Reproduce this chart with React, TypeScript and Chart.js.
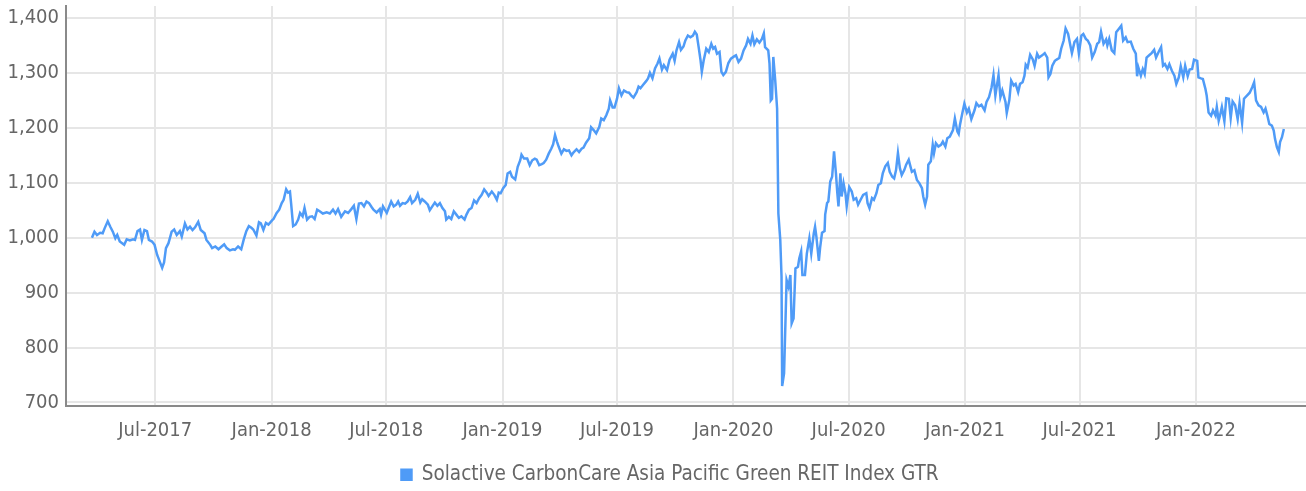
import React, { useEffect, useRef } from "react";
import { Chart, registerables } from "chart.js";

Chart.register(...registerables);

const SERIES_LABEL = "Solactive CarbonCare Asia Pacific Green REIT Index GTR";

const dates2017: string[] = [
  "2017-03-23","2017-03-27","2017-03-31","2017-04-05","2017-04-09","2017-04-12","2017-04-17","2017-04-21","2017-04-25","2017-04-29",
  "2017-05-02","2017-05-06","2017-05-13","2017-05-17","2017-05-22","2017-05-27","2017-05-30","2017-06-03","2017-06-07","2017-06-10",
  "2017-06-14","2017-06-18","2017-06-21","2017-06-26","2017-06-30","2017-07-04","2017-07-07","2017-07-12","2017-07-15","2017-07-18",
  "2017-07-22","2017-07-27","2017-07-31","2017-08-04","2017-08-09","2017-08-12","2017-08-17","2017-08-21","2017-08-25","2017-08-29",
  "2017-09-02","2017-09-07","2017-09-11","2017-09-17","2017-09-20","2017-09-26","2017-09-29","2017-10-04","2017-10-09","2017-10-14",
  "2017-10-18","2017-10-22","2017-10-27","2017-11-01","2017-11-04","2017-11-09","2017-11-14","2017-11-18","2017-11-22","2017-11-26",
  "2017-11-30","2017-12-03","2017-12-08","2017-12-12","2017-12-15","2017-12-19","2017-12-23","2017-12-27",
];
const values2017: number[] = [
  1000, 1011, 1005, 1009, 1008, 1017, 1030, 1020, 1011, 999,
  1005, 993, 987, 997, 995, 997, 996, 1012, 1015, 996,
  1014, 1012, 996, 993, 987, 969, 960, 945, 955, 981,
  990, 1011, 1015, 1005, 1012, 1002, 1026, 1015, 1020, 1014,
  1019, 1029, 1014, 1008, 996, 987, 981, 984, 979, 984,
  988, 981, 977, 979, 978, 984, 979, 997, 1012, 1021,
  1018, 1015, 1004, 1028, 1026, 1014, 1027, 1024,
];

const dates2018: string[] = [
  "2018-01-02","2018-01-04","2018-01-09","2018-01-13","2018-01-17","2018-01-20","2018-01-24","2018-01-27","2018-01-30","2018-02-01",
  "2018-02-04","2018-02-08","2018-02-12","2018-02-15","2018-02-19","2018-02-22","2018-02-26","2018-03-02","2018-03-06","2018-03-10",
  "2018-03-14","2018-03-18","2018-03-23","2018-03-29","2018-04-03","2018-04-08","2018-04-12","2018-04-16","2018-04-21","2018-04-27",
  "2018-05-02","2018-05-07","2018-05-11","2018-05-15","2018-05-19","2018-05-23","2018-05-27","2018-05-31","2018-06-04","2018-06-08",
  "2018-06-11","2018-06-16","2018-06-21","2018-06-23","2018-06-26","2018-07-02","2018-07-05","2018-07-09","2018-07-13","2018-07-17",
  "2018-07-20","2018-07-23","2018-07-27","2018-07-31","2018-08-04","2018-08-08","2018-08-11","2018-08-16","2018-08-20","2018-08-24",
  "2018-08-27","2018-08-31","2018-09-05","2018-09-08","2018-09-12","2018-09-16","2018-09-20","2018-09-24","2018-09-28","2018-10-02",
  "2018-10-04","2018-10-08","2018-10-12","2018-10-16","2018-10-20","2018-10-24","2018-10-28","2018-11-02","2018-11-05","2018-11-09",
  "2018-11-13","2018-11-17","2018-11-21","2018-11-25","2018-11-29","2018-12-03","2018-12-07","2018-12-10","2018-12-15","2018-12-19",
  "2018-12-23","2018-12-26","2018-12-29",
];
const values2018: number[] = [
  1032, 1034, 1045, 1051, 1063, 1069, 1088, 1082, 1084, 1060,
  1021, 1024, 1033, 1045, 1039, 1054, 1033, 1038, 1039, 1034,
  1051, 1048, 1044, 1046, 1044, 1051, 1044, 1052, 1038, 1048,
  1045, 1052, 1058, 1034, 1062, 1063, 1057, 1066, 1063, 1056,
  1051, 1046, 1052, 1042, 1057, 1045, 1054, 1066, 1057, 1060,
  1066, 1058, 1063, 1062, 1066, 1074, 1063, 1069, 1080, 1064,
  1070, 1066, 1060, 1050, 1057, 1064, 1058, 1063, 1054, 1048,
  1033, 1038, 1034, 1048, 1042, 1036, 1039, 1033, 1042, 1051,
  1054, 1068, 1063, 1072, 1078, 1088, 1082, 1076, 1084, 1078,
  1069, 1082, 1081,
];

const dates2019: string[] = [
  "2019-01-02","2019-01-06","2019-01-09","2019-01-13","2019-01-16","2019-01-21","2019-01-25","2019-01-29","2019-01-31","2019-02-04",
  "2019-02-09","2019-02-13","2019-02-17","2019-02-21","2019-02-24","2019-02-28","2019-03-04","2019-03-07","2019-03-11","2019-03-15",
  "2019-03-19","2019-03-22","2019-03-25","2019-03-28","2019-03-31","2019-04-04","2019-04-08","2019-04-12","2019-04-16","2019-04-20",
  "2019-04-23","2019-04-28","2019-05-02","2019-05-06","2019-05-09","2019-05-13","2019-05-18","2019-05-21","2019-05-25","2019-05-29",
  "2019-06-03","2019-06-06","2019-06-10","2019-06-14","2019-06-18","2019-06-20","2019-06-24","2019-06-27","2019-07-01","2019-07-04",
  "2019-07-08","2019-07-12","2019-07-16","2019-07-20","2019-07-24","2019-07-27","2019-08-01","2019-08-04","2019-08-07","2019-08-11",
  "2019-08-16","2019-08-19","2019-08-22","2019-08-26","2019-08-30","2019-09-03","2019-09-06","2019-09-10","2019-09-13","2019-09-18",
  "2019-09-22","2019-09-27","2019-09-30","2019-10-03","2019-10-07","2019-10-10","2019-10-14","2019-10-17","2019-10-21","2019-10-25",
  "2019-10-29","2019-11-01","2019-11-04","2019-11-07","2019-11-10","2019-11-12","2019-11-15","2019-11-19","2019-11-23","2019-11-27",
  "2019-11-30","2019-12-03","2019-12-06","2019-12-10","2019-12-13","2019-12-16","2019-12-20","2019-12-24","2019-12-28",
];
const values2019: number[] = [
  1090, 1096, 1117, 1120, 1111, 1106, 1129, 1141, 1151, 1144,
  1144, 1132, 1141, 1144, 1142, 1132, 1134, 1136, 1142, 1153,
  1162, 1170, 1187, 1175, 1165, 1153, 1161, 1158, 1159, 1150,
  1155, 1161, 1156, 1162, 1164, 1173, 1181, 1201, 1196, 1190,
  1202, 1217, 1214, 1223, 1235, 1250, 1237, 1237, 1253, 1272,
  1259, 1268, 1265, 1264, 1258, 1255, 1265, 1275, 1272, 1278,
  1285, 1290, 1300, 1290, 1308, 1317, 1326, 1306, 1314, 1305,
  1324, 1335, 1322, 1341, 1356, 1342, 1348, 1359, 1368, 1365,
  1368, 1375, 1370, 1347, 1323, 1302, 1323, 1344, 1338, 1353,
  1344, 1347, 1335, 1338, 1302, 1296, 1302, 1318, 1326,
];

const dates2020: string[] = [
  "2020-01-02","2020-01-05","2020-01-09","2020-01-13","2020-01-17","2020-01-21","2020-01-24","2020-01-28","2020-01-31","2020-02-03",
  "2020-02-07","2020-02-11","2020-02-15","2020-02-18","2020-02-20","2020-02-25","2020-02-27","2020-02-29","2020-03-02","2020-03-04",
  "2020-03-07","2020-03-10","2020-03-12","2020-03-15","2020-03-17","2020-03-18","2020-03-21","2020-03-25","2020-03-28","2020-03-31",
  "2020-04-02","2020-04-05","2020-04-08","2020-04-12","2020-04-14","2020-04-17","2020-04-19","2020-04-23","2020-04-26","2020-04-30",
  "2020-05-03","2020-05-07","2020-05-09","2020-05-11","2020-05-15","2020-05-17","2020-05-20","2020-05-24","2020-05-25","2020-05-28",
  "2020-05-30","2020-06-02","2020-06-05","2020-06-08","2020-06-11","2020-06-13","2020-06-15","2020-06-18","2020-06-20","2020-06-23",
  "2020-06-26","2020-06-28","2020-07-02","2020-07-06","2020-07-09","2020-07-13","2020-07-16","2020-07-20","2020-07-24","2020-07-29",
  "2020-07-31","2020-08-03","2020-08-07","2020-08-10","2020-08-14","2020-08-17","2020-08-21","2020-08-24","2020-08-28","2020-09-01",
  "2020-09-04","2020-09-08","2020-09-11","2020-09-14","2020-09-17","2020-09-20","2020-09-23","2020-09-27","2020-09-30","2020-10-04",
  "2020-10-06","2020-10-09","2020-10-13","2020-10-17","2020-10-21","2020-10-25","2020-10-27","2020-10-30","2020-11-02","2020-11-04",
  "2020-11-08","2020-11-11","2020-11-13","2020-11-16","2020-11-20","2020-11-24","2020-11-27","2020-12-01","2020-12-04","2020-12-08",
  "2020-12-13","2020-12-16","2020-12-20","2020-12-22","2020-12-24","2020-12-28","2020-12-31",
];
const values2020: number[] = [
  1330, 1332, 1320, 1326, 1341, 1350, 1362, 1353, 1368, 1352,
  1361, 1355, 1362, 1372, 1347, 1341, 1317, 1250, 1253, 1329,
  1287, 1235, 1044, 996, 929, 730, 753, 923, 911, 932,
  844, 853, 944, 947, 962, 975, 932, 932, 971, 999,
  971, 1008, 1020, 1003, 958, 982, 1009, 1012, 1042, 1063,
  1066, 1102, 1111, 1157, 1117, 1084, 1057, 1117, 1075, 1099,
  1081, 1057, 1092, 1084, 1069, 1072, 1060, 1069, 1078, 1081,
  1063, 1054, 1072, 1069, 1081, 1096, 1099, 1117, 1130, 1136,
  1120, 1111, 1108, 1123, 1154, 1127, 1114, 1123, 1133, 1142,
  1133, 1120, 1123, 1105, 1099, 1090, 1075, 1060, 1075, 1133,
  1139, 1169, 1154, 1172, 1166, 1169, 1175, 1166, 1181, 1184,
  1196, 1217, 1193, 1189, 1205, 1228, 1244,
];

const dates2021: string[] = [
  "2021-01-04","2021-01-07","2021-01-11","2021-01-16","2021-01-19","2021-01-23","2021-01-27","2021-02-01","2021-02-04","2021-02-08",
  "2021-02-12","2021-02-15","2021-02-18","2021-02-20","2021-02-23","2021-02-26","2021-03-01","2021-03-06","2021-03-08","2021-03-12",
  "2021-03-15","2021-03-19","2021-03-22","2021-03-26","2021-03-29","2021-04-02","2021-04-05","2021-04-07","2021-04-10","2021-04-14",
  "2021-04-18","2021-04-21","2021-04-25","2021-04-28","2021-05-03","2021-05-07","2021-05-11","2021-05-13","2021-05-16","2021-05-19",
  "2021-05-23","2021-05-27","2021-05-30","2021-06-02","2021-06-06","2021-06-09","2021-06-13","2021-06-16","2021-06-19","2021-06-23",
  "2021-06-27","2021-06-30","2021-07-04","2021-07-07","2021-07-11","2021-07-14","2021-07-18","2021-07-21","2021-07-25","2021-07-29",
  "2021-08-01","2021-08-04","2021-08-08","2021-08-12","2021-08-14","2021-08-17","2021-08-21","2021-08-25","2021-08-28","2021-09-01",
  "2021-09-05","2021-09-08","2021-09-12","2021-09-15","2021-09-20","2021-09-24","2021-09-28","2021-09-30","2021-10-02","2021-10-06",
  "2021-10-09","2021-10-12","2021-10-15","2021-10-20","2021-10-23","2021-10-27","2021-10-30","2021-11-03","2021-11-07","2021-11-10",
  "2021-11-13","2021-11-17","2021-11-20","2021-11-24","2021-11-28","2021-12-01","2021-12-05","2021-12-08","2021-12-12","2021-12-15",
  "2021-12-19","2021-12-22","2021-12-26","2021-12-29",
];
const values2021: number[] = [
  1228, 1235, 1216, 1232, 1245, 1239, 1242, 1232, 1247, 1256,
  1274, 1296, 1259, 1274, 1296, 1256, 1268, 1247, 1227, 1250,
  1286, 1277, 1280, 1265, 1280, 1283, 1295, 1315, 1310, 1333,
  1325, 1313, 1335, 1328, 1332, 1336, 1328, 1292, 1298, 1313,
  1322, 1325, 1327, 1344, 1359, 1381, 1371, 1353, 1336, 1356,
  1362, 1335, 1368, 1371, 1362, 1359, 1350, 1328, 1338, 1353,
  1356, 1375, 1353, 1361, 1350, 1362, 1341, 1336, 1374, 1380,
  1386, 1359, 1365, 1356, 1357, 1344, 1335, 1294, 1310, 1295,
  1307, 1298, 1328, 1333, 1336, 1342, 1328, 1338, 1347, 1313,
  1316, 1307, 1316, 1304, 1295, 1280, 1292, 1312, 1292, 1313,
  1294, 1306, 1307, 1324,
];

const dates2022: string[] = [
  "2022-01-03","2022-01-05","2022-01-09","2022-01-12","2022-01-16","2022-01-18","2022-01-21","2022-01-25","2022-01-28","2022-02-01",
  "2022-02-03","2022-02-06","2022-02-08","2022-02-11","2022-02-15","2022-02-18","2022-02-22","2022-02-25","2022-02-28","2022-03-04",
  "2022-03-08","2022-03-11","2022-03-15","2022-03-18","2022-03-23","2022-03-27","2022-03-31","2022-04-03","2022-04-06","2022-04-10",
  "2022-04-14","2022-04-18","2022-04-21","2022-04-24","2022-04-27","2022-05-01","2022-05-04","2022-05-06","2022-05-09","2022-05-12",
  "2022-05-14","2022-05-17","2022-05-20",
];
const values2022: number[] = [
  1322, 1292, 1290, 1289, 1271, 1259, 1228, 1222, 1232, 1222,
  1238, 1213, 1222, 1238, 1212, 1254, 1253, 1218, 1248, 1241,
  1216, 1245, 1209, 1253, 1259, 1264, 1274, 1283, 1250, 1241,
  1238, 1228, 1235, 1222, 1207, 1204, 1195, 1180, 1165, 1156,
  1174, 1183, 1198,
];

const xTickDates: string[] = [
  "2017-07-01","2018-01-01","2018-07-01","2019-01-01","2019-07-01",
  "2020-01-01","2020-07-01","2021-01-01","2021-07-01","2022-01-01",
];
const xTickLabels: string[] = [
  "Jul-2017","Jan-2018","Jul-2018","Jan-2019","Jul-2019",
  "Jan-2020","Jul-2020","Jan-2021","Jul-2021","Jan-2022",
];
const yTickValues: number[] = [700, 800, 900, 1000, 1100, 1200, 1300, 1400];
const xAxisRange: string[] = ["2017-02-10", "2022-06-24"];
const yAxisRange: number[] = [694.5, 1421.8];

const LINE_COLOR = "#4f9bf7";
const TEXT_COLOR = "#666666";
const GRID_COLOR = "#e6e6e6";
const AXIS_COLOR = "#8a8a8a";
const FONT_FAMILY = "'Liberation Sans Narrow', 'DejaVu Sans Condensed', 'Roboto Condensed', 'Liberation Sans', sans-serif";

const toDay = (s: string): number => {
  const [y, m, d] = s.split("-").map(Number);
  return Date.UTC(y, m - 1, d) / 86400000;
};

const legendShift = {
  id: "legendShift",
  afterLayout(chart: any) {
    const lg = chart.legend;
    if (lg) {
      lg.left += 17;
      lg.right += 17;
    }
  },
};

export default function App() {
  const canvasRef = useRef<HTMLCanvasElement | null>(null);

  useEffect(() => {
    const canvas = canvasRef.current;
    if (!canvas) return;
    const allDates = [...dates2017, ...dates2018, ...dates2019, ...dates2020, ...dates2021, ...dates2022];
    const allValues = [...values2017, ...values2018, ...values2019, ...values2020, ...values2021, ...values2022];
    const points = allDates.map((d, i) => ({ x: toDay(d), y: allValues[i] }));
    const font = { family: FONT_FAMILY, size: 20, weight: "normal" as const };

    const chart = new Chart(canvas, {
      type: "line",
      data: {
        datasets: [
          {
            label: SERIES_LABEL,
            data: points,
            borderColor: LINE_COLOR,
            backgroundColor: LINE_COLOR,
            borderWidth: 2.5,
            pointRadius: 0,
            pointHoverRadius: 0,
            tension: 0,
            fill: false,
          },
        ],
      },
      plugins: [legendShift],
      options: {
        animation: false,
        responsive: false,
        devicePixelRatio: 1,
        layout: { padding: { top: 6, bottom: -4, left: 0, right: 0 } },
        plugins: {
          tooltip: { enabled: false },
          legend: {
            position: "bottom",
            labels: {
              boxWidth: 10,
              boxHeight: 10,
              padding: 6,
              color: TEXT_COLOR,
              font: { family: FONT_FAMILY, size: 20.5, weight: "normal" as const },
            },
          },
        },
        scales: {
          x: {
            type: "linear",
            min: toDay(xAxisRange[0]),
            max: toDay(xAxisRange[1]),
            afterBuildTicks: (scale: any) => {
              scale.ticks = xTickDates.map((d) => ({ value: toDay(d) }));
            },
            afterFit: (scale: any) => {
              scale.height = 53;
              scale.paddingLeft = 0;
              scale.paddingRight = 0;
            },
            ticks: {
              autoSkip: false,
              maxRotation: 0,
              padding: 13,
              color: TEXT_COLOR,
              font,
              callback: (_v: any, i: number) => xTickLabels[i],
            },
            grid: { color: GRID_COLOR, lineWidth: 2, drawTicks: false },
            border: { color: AXIS_COLOR, width: 2 },
          },
          y: {
            type: "linear",
            min: yAxisRange[0],
            max: yAxisRange[1],
            afterBuildTicks: (scale: any) => {
              scale.ticks = yTickValues.map((v) => ({ value: v }));
            },
            afterFit: (scale: any) => {
              scale.width = 66;
              scale.paddingTop = 0;
              scale.paddingBottom = 0;
            },
            ticks: {
              padding: 7,
              color: TEXT_COLOR,
              font,
              callback: (v: any) => Number(v).toLocaleString("en-US"),
            },
            grid: { color: GRID_COLOR, lineWidth: 2, drawTicks: false },
            border: { color: AXIS_COLOR, width: 2 },
          },
        },
      },
    });
    return () => chart.destroy();
  }, []);

  return (
    <div style={{ position: "fixed", left: 0, top: 0, width: 1306, height: 491, background: "#fff" }}>
      <canvas ref={canvasRef} width={1306} height={491} style={{ width: 1306, height: 491, display: "block" }} />
    </div>
  );
}
